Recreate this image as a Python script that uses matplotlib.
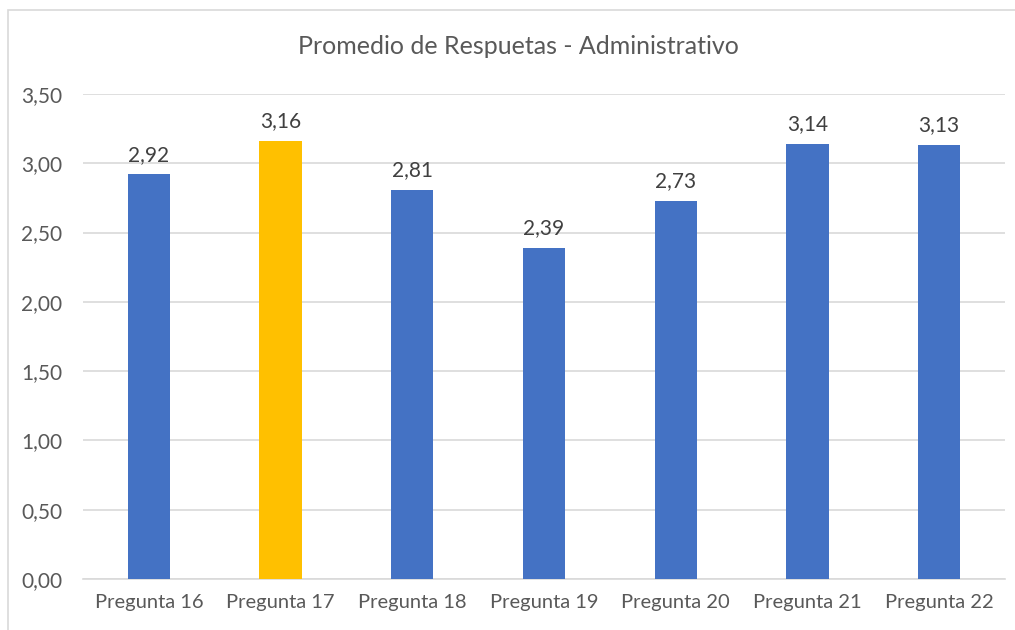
import matplotlib
matplotlib.use("Agg")
import matplotlib.pyplot as plt
from matplotlib.patches import Rectangle

categories = ["Pregunta 16", "Pregunta 17", "Pregunta 18", "Pregunta 19", "Pregunta 20", "Pregunta 21", "Pregunta 22"]
values = [2.92, 3.16, 2.81, 2.39, 2.73, 3.14, 3.13]
colors = ["#4472C4", "#FFC000", "#4472C4", "#4472C4", "#4472C4", "#4472C4", "#4472C4"]
yticks = [0.0, 0.5, 1.0, 1.5, 2.0, 2.5, 3.0, 3.5]

plt.rcParams['font.family'] = ['Lato', 'DejaVu Sans']

W, H = 1015, 630
fig = plt.figure(figsize=(W/100, H/100), dpi=100)
fig.patches.append(Rectangle((8/W, -0.2), 1.2, 1.2 - 10/H, transform=fig.transFigure,
                             fill=False, edgecolor="#d9d9d9", linewidth=1.2))
ax = fig.add_axes([83/W, 1 - 579/H, (1005-83)/W, (579-94)/H])

x = list(range(len(categories)))
bars = ax.bar(x, values, width=0.32, color=colors, zorder=3)
for xi, v in zip(x, values):
    ax.text(xi, v + 0.07, f"{v:.2f}".replace(".", ","), ha="center", va="bottom",
            fontsize=15, color="#404040")

ax.set_xlim(-0.5, len(categories) - 0.5)
ax.set_ylim(0, 3.5)
ax.set_yticks(yticks)
ax.set_yticklabels([f"{t:.2f}".replace(".", ",") for t in yticks], fontsize=15, color="#595959")
ax.set_xticks(x)
ax.set_xticklabels(categories, fontsize=14.5, color="#595959")
ax.tick_params(axis="both", length=0)
ax.tick_params(axis="y", pad=15)
ax.tick_params(axis="x", pad=11)
ax.grid(axis="y", color="#d9d9d9", linewidth=1.2, zorder=0)
for s in ["top", "right", "left"]:
    ax.spines[s].set_visible(False)
ax.spines["bottom"].set_color("#d9d9d9")
ax.spines["bottom"].set_linewidth(1.2)

fig.text(518/W, 1 - 47/H, "Promedio de Respuetas - Administrativo", ha="center", va="center",
         fontsize=18, color="#595959")

fig.savefig("out.png", dpi=100)
